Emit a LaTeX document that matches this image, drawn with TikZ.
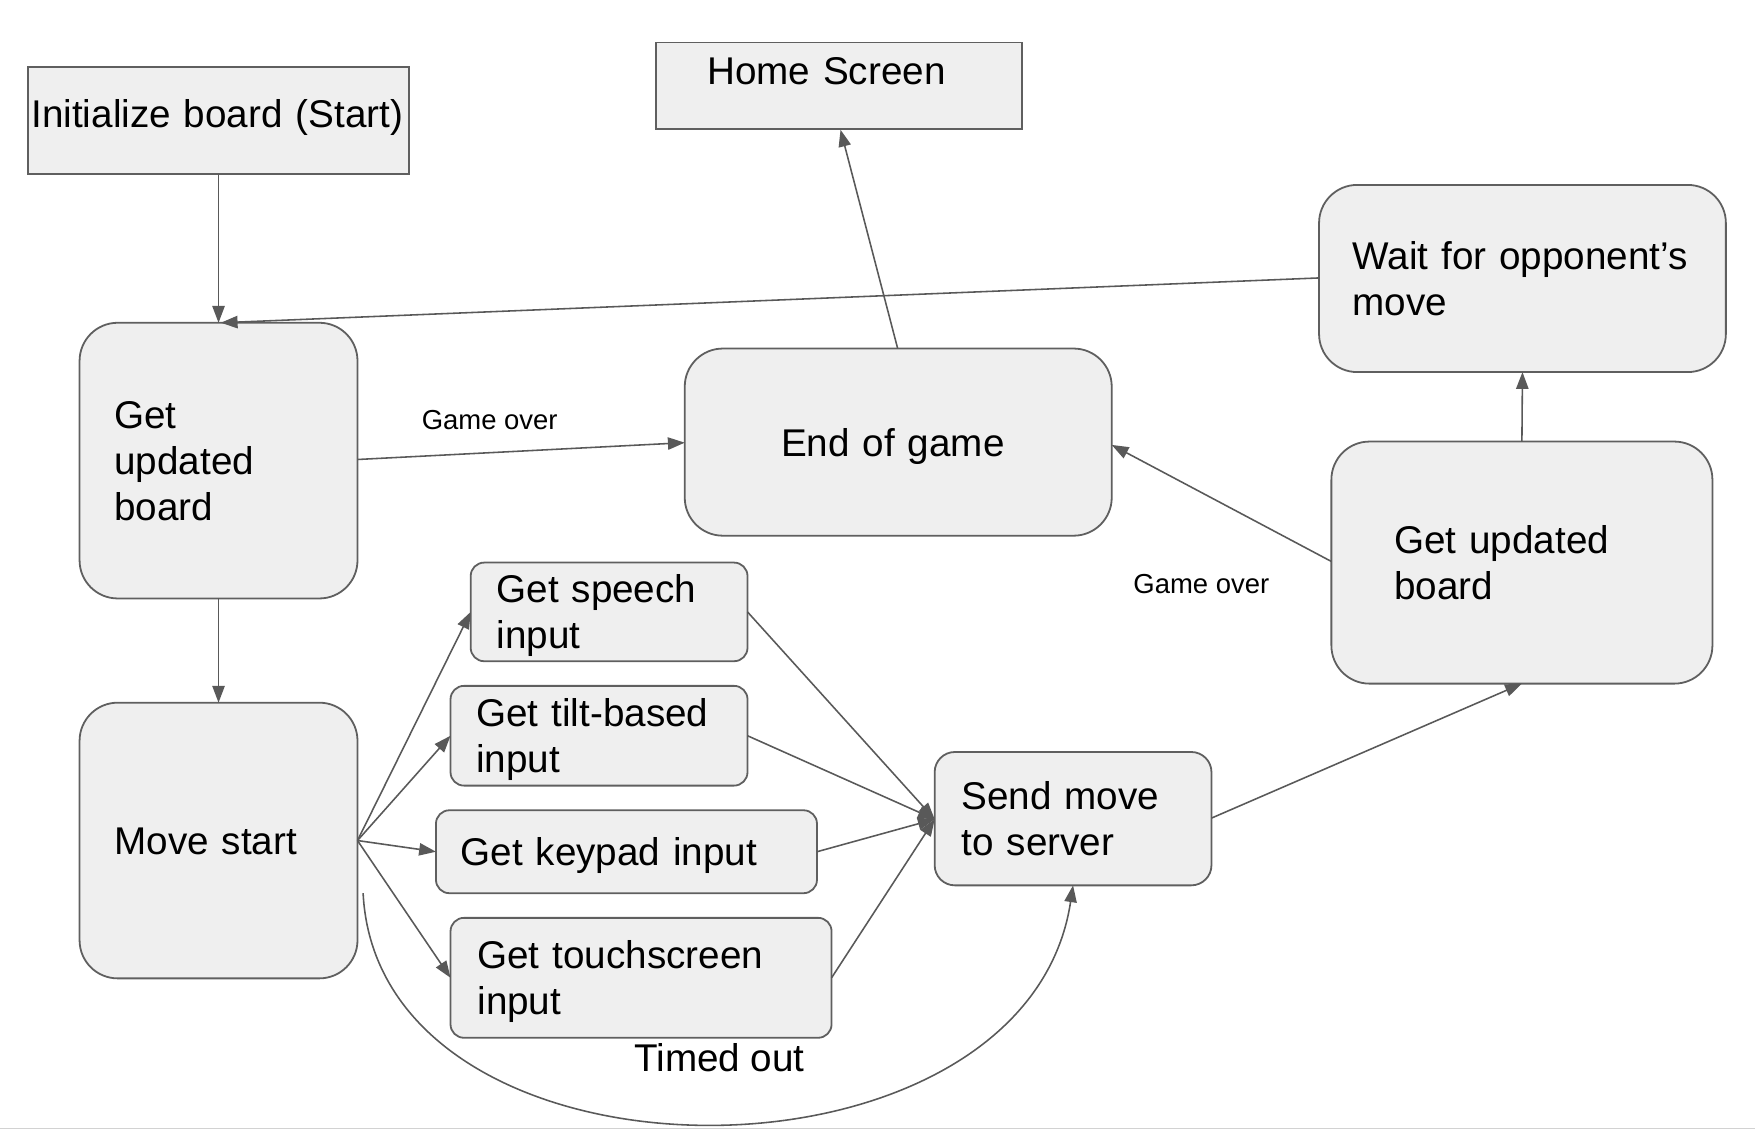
\documentclass[tikz,border=0pt]{standalone}
\usepackage{fontspec}
\setmainfont{Liberation Sans}
\usetikzlibrary{arrows.meta}
\definecolor{boxfill}{HTML}{EFEFEF}
\definecolor{boxline}{HTML}{5F5F5F}
\definecolor{arr}{HTML}{595959}
\newcommand{\bigtext}{\fontsize{34.5}{41}\selectfont}
\newcommand{\smalltext}{\fontsize{24.5}{29}\selectfont}
% text with fixed first-line height and last-line depth, so lines sit centred
\newcommand{\ct}[2][8.2pt]{\rule{0pt}{33pt}#2\rule[-#1]{0pt}{0pt}}
\begin{document}
\begin{tikzpicture}[x=1pt,y=-1pt,
  sqbox/.style={draw=boxline,fill=boxfill,line width=1.6pt,inner sep=0pt,outer sep=0pt,font=\bigtext},
  rbox/.style={sqbox,rounded corners=#1},
  rbox/.default=34pt,
  conn/.style={draw=arr,line width=1.4pt,-{Triangle[length=15pt,width=11pt]}},
  lbl/.style={font=\smalltext,inner sep=0pt},
  lblbig/.style={font=\bigtext,inner sep=0pt}]
\useasboundingbox (0,0) rectangle (1566,1007.4);
\fill[gray!35] (0,1006.4) rectangle (1566,1007.4);

% Initialize board (Start)
\node[sqbox,minimum width=340pt,minimum height=95pt,align=left,text width=334pt,inner xsep=3pt] (init) at (195,107.5)
  {\ct[21.2pt]{Initialize board (Start)}};
% Home Screen
\node[sqbox,minimum width=327pt,minimum height=77pt,align=left,text width=235pt,inner xsep=46pt] (home) at (748.5,76.5)
  {\ct[35.2pt]{Home Screen}};
% Get updated board (left)
\node[rbox,minimum width=248pt,minimum height=246pt,align=left,text width=186pt,inner xsep=31pt] (gubl) at (195,411)
  {\ct{Get\\updated\\board}};
% End of game
\node[rbox,minimum width=381pt,minimum height=167pt,align=left,text width=209pt,inner xsep=86pt] (end) at (801.5,394.5)
  {\ct{End of game}};
% Wait for opponent's move
\node[rbox,minimum width=363pt,minimum height=167pt,align=left,text width=303pt,inner xsep=30pt] (wait) at (1358.5,248.5)
  {\ct{Wait for opponent’s\\move}};
% Get updated board (right)
\node[rbox,minimum width=340pt,minimum height=216pt,align=left,text width=228pt,inner xsep=56pt] (gubr) at (1358,502)
  {\ct{Get updated\\board}};
% Move start
\node[rbox,minimum width=248pt,minimum height=246pt,align=left,text width=186pt,inner xsep=31pt] (move) at (195,750)
  {\ct{Move start}};
% inputs
\node[rbox=12pt,minimum width=247pt,minimum height=88pt,align=left,text width=201pt,inner xsep=23pt] (speech) at (543.5,546)
  {\ct{Get speech\\input}};
\node[rbox=12pt,minimum width=265pt,minimum height=89pt,align=left,text width=219pt,inner xsep=23pt] (tilt) at (534.5,656.5)
  {\ct{Get tilt-based\\input}};
\node[rbox=12pt,minimum width=340pt,minimum height=74pt,align=left,text width=296pt,inner xsep=22pt] (keypad) at (559,760)
  {\ct{Get keypad input}};
\node[rbox=12pt,minimum width=340pt,minimum height=107pt,align=left,text width=292pt,inner xsep=24pt] (touch) at (572,872.5)
  {\ct{Get touchscreen\\input}};
% Send move to server
\node[rbox=18pt,minimum width=247pt,minimum height=119pt,align=left,text width=199pt,inner xsep=24pt] (send) at (957.5,730.5)
  {\ct{Send move\\to server}};

% labels
\node[lbl] (go1) at (437,375) {Game over};
\node[lbl] (go2) at (1072,521) {Game over};
\node[lblbig] (timed) at (642,944) {Timed out};

% connectors
\draw[conn] (init.south) -- (gubl.north);
\draw[conn] (wait.west |- 0,248) -- ([xshift=2pt]gubl.north);
\draw[conn] (gubl.east |- 0,410) -- (end.west |- 0,395);
\draw[conn] ([xshift=-0.5pt]end.north) -- (750,115.8);
\draw[conn] (gubr.west |- 0,501) -- (end.east |- 0,397);
\draw[conn] (gubr.north) -- (wait.south);
\draw[conn] (send.east |- 0,730) -- (gubr.south);
\draw[conn] (gubl.south) -- (move.north);
\coordinate (ms) at (319,750);
\coordinate (sin) at (834,731);
\draw[conn] (ms) -- (speech.west);
\draw[conn] (ms) -- (tilt.west);
\draw[conn] (ms) -- (keypad.west);
\draw[conn] (ms) -- (touch.west);
\draw[conn] (speech.east) -- (sin);
\draw[conn] (tilt.east) -- (sin);
\draw[conn] (keypad.east) -- (sin);
\draw[conn] (touch.east) -- (sin);
\coordinate (cs) at (324,797);
\draw[conn] (cs) .. controls (338,1072) and (915,1072) .. (send.south);
\end{tikzpicture}
\end{document}
